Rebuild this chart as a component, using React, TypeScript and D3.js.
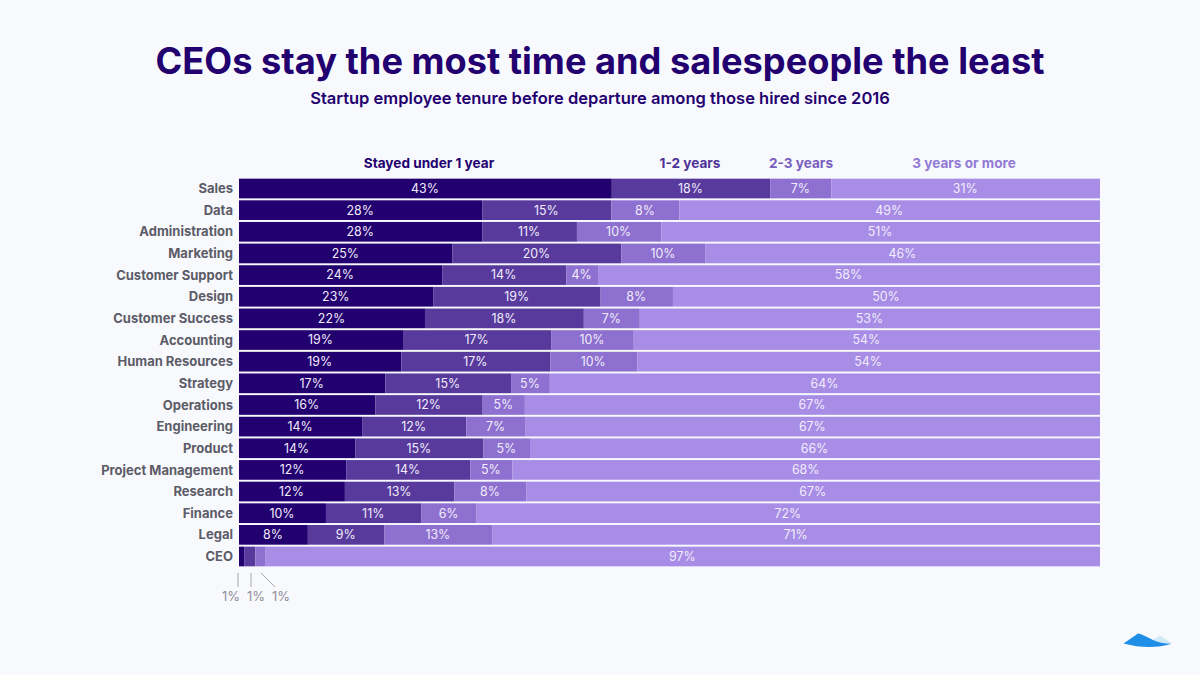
import React from "react";
import * as d3 from "d3";

const titleText = "CEOs stay the most time and salespeople the least";
const subtitleText = "Startup employee tenure before departure among those hired since 2016";
const roles = ["Sales","Data","Administration","Marketing","Customer Support","Design","Customer Success","Accounting","Human Resources","Strategy","Operations","Engineering","Product","Project Management","Research","Finance","Legal","CEO"];
const seriesNames = ["Stayed under 1 year","1-2 years","2-3 years","3 years or more"];
const under1 = [43.3,28.25,28.25,24.8,23.6,22.6,21.6,19.05,18.85,17.0,15.85,14.3,13.5,12.45,12.3,10.1,8.0,0.6];
const y1to2 = [18.4,15.0,11.0,19.6,14.4,19.4,18.45,17.2,17.3,14.6,12.45,12.1,14.9,14.4,12.7,11.1,8.9,1.3];
const y2to3 = [7.1,7.9,9.8,9.8,3.7,8.4,6.5,9.6,10.1,4.5,4.9,6.9,5.4,4.9,8.4,6.4,12.5,1.2];
const y3plus = [31.2,48.85,50.95,45.8,58.3,49.6,53.45,54.15,53.75,63.9,66.8,66.7,66.2,68.25,66.6,72.4,70.6,96.9];
const ceoCalloutLabels = ["1%","1%","1%"];
const seriesColors = ["#23006f","#573a9c","#8d70cf","#a78de6"];
const legendColors = ["#23006f","#4e3496","#7a5fc0","#9279d6"];
const legendCenters = [429, 690, 801, 964];

const FONT = "Inter, 'Noto Sans', sans-serif";

export default function App() {
  const x = d3.scaleLinear().domain([0, 100]).range([239, 1100]);
  const y = d3.scaleBand<string>().domain(roles).range([177.8, 567.2]).paddingInner(0.09).paddingOuter(0.04);
  const rows = roles.map((r, i) => ({ role: r, a: under1[i], b: y1to2[i], c: y2to3[i], d: y3plus[i] }));
  const stack = d3.stack<any>().keys(["a", "b", "c", "d"])(rows);
  const ceo = stack.map((s) => s[roles.length - 1]);
  const calloutTop = 573;
  const calloutBottom = 587;
  const calloutTextX = [231, 256, 281];

  return (
    <svg width={1200} height={675} viewBox="0 0 1200 675" style={{ position: "fixed", left: 0, top: 0, display: "block" }} fontFamily={FONT}>
      <rect width={1200} height={675} fill="#f8f9fd" />
      <text x={600} y={74} textAnchor="middle" fontSize={36.2} fontWeight={700} fill="#23006f">{titleText}</text>
      <text x={600} y={104} textAnchor="middle" fontSize={16.55} fontWeight={600} fill="#23006f">{subtitleText}</text>
      {seriesNames.map((n, i) => (
        <text key={n} x={legendCenters[i]} y={168} textAnchor="middle" fontSize={13.6} fontWeight={700} fill={legendColors[i]}>{n}</text>
      ))}
      {roles.map((r) => (
        <text key={r} x={233} y={(y(r) as number) + y.bandwidth() / 2 + 4.6} textAnchor="end" fontSize={13} fontWeight={700} fill="#5c5c68">{r}</text>
      ))}
      {stack.map((s, si) => (
        <g key={s.key}>
          {s.map((p, i) => {
            const v = p[1] - p[0];
            const bx = x(p[0]);
            const bw = x(p[1]) - x(p[0]);
            const by = y(roles[i]) as number;
            return (
              <g key={roles[i]}>
                <rect x={bx} y={by} width={bw} height={y.bandwidth()} fill={seriesColors[si]} />
                {v >= 2 ? (
                  <text x={bx + bw / 2 - 0.5} y={by + y.bandwidth() / 2 + 4.4} textAnchor="middle" fontSize={12.4} fontWeight={400} fill="#f1ecfb">{Math.round(v)}%</text>
                ) : null}
              </g>
            );
          })}
        </g>
      ))}
      {ceo.slice(0, 3).map((p, i) => {
        const tops = [238, 251, 261];
        const bottoms = [238, 251, 275];
        return (
          <g key={i}>
            <line x1={tops[i]} x2={bottoms[i]} y1={calloutTop} y2={calloutBottom} stroke="#a6a6ae" strokeWidth={1} />
            <text x={calloutTextX[i]} y={601} textAnchor="middle" fontSize={13} fill="#8f8f98">{ceoCalloutLabels[i]}</text>
          </g>
        );
      })}
      <g>
        <path d="M1153 640 L1160 635.5 L1172 643.5 Q1166 644.5 1160 644 Z" fill="#cfe9f5" />
        <path d="M1123.5 643.5 L1138 633.5 Q1140 633 1153 640 Q1160 643.5 1171.5 643.8 Q1150 650.5 1123.5 643.5 Z" fill="#1f8ee6" />
      </g>
    </svg>
  );
}
